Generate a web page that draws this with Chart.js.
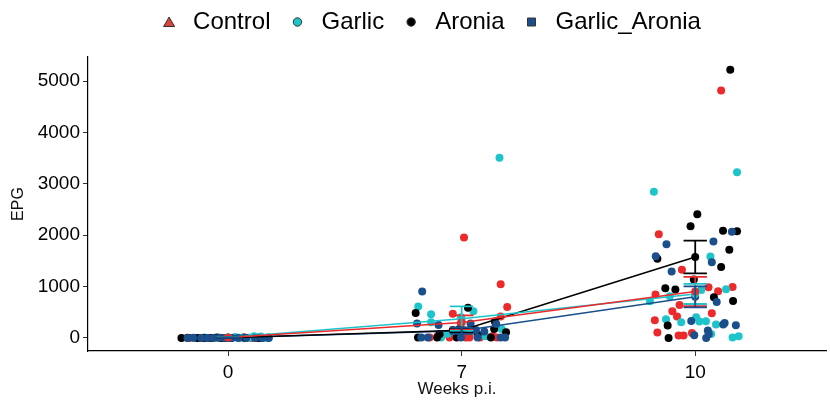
<!DOCTYPE html>
<html>
<head>
<meta charset="utf-8">
<script src="https://cdn.jsdelivr.net/npm/chart.js@4.4.1/dist/chart.umd.min.js"></script>
<style>
  html, body { margin: 0; padding: 0; background: #fff; }
</style>
</head>
<body>
<canvas id="epgChart" width="830" height="403"></canvas>
<script>
const weeks = ['0', '7', '10'];
const groups = ['Control', 'Garlic', 'Aronia', 'Garlic_Aronia'];
const groupColors = ['#EC2A2B', '#1DC5CB', '#000000', '#1A4F8B'];
const yTicks = [0, 1000, 2000, 3000, 4000, 5000];

// EPG per animal, one inner array per week (0, 7, 10)
const controlEPG = [
    [5, 0, 10, 0, 0, 0, 5, 0, 15, 0, 0, 0],
    [1954, 1044, 604, 468, 284, 415, 10, 10, 10, 10, 10, 10, 40, 30],
    [4819, 2019, 1325, 986, 910, 990, 843, 643, 519, 415, 480, 343, 103, 45, 45, 97]
];
const garlicEPG = [
    [20, 10, 25, 15, 5, 0, 5, 0, 10, 30, 0, 0],
    [3507, 610, 460, 518, 401, 304, 175, 10, 150, 80, 30, 20],
    [3227, 2845, 1584, 948, 935, 713, 811, 362, 304, 401, 318, 324, 259, 6, 31, 78]
];
const aroniaEPG = [
    [0, 0, 0, 0, 5, 0, 0, 0, 0, 10],
    [487, 585, 318, 109, 78, 10, 10, 10, 10, 150, 60, 175],
    [5222, 2409, 2175, 2085, 2077, 1715, 1539, 1383, 1136, 967, 941, 790, 720, 240, 0]
];
const garlicAroniaEPG = [
    [0, 5, 0, 0, 0, 5, 0, 0, 0, 0, 0, 0, 0],
    [902, 279, 253, 279, 273, 156, 123, 175, 10, 10, 10, 10, 10, 10],
    [2066, 1824, 1877, 1590, 1473, 1292, 701, 331, 259, 292, 246, 51, 142, 78, 0]
];

// horizontal jitter of each animal, in week units
const controlJitter = [
    [0.047, 0.098, 0.123, 0.145, -0.081, -0.017, 0.166, -0.123, 0.068, 0.013, -0.166, 0.115],
    [0.010, 0.167, 0.195, -0.038, -0.004, 0.167, -0.137, -0.052, 0.018, 0.033, 0.078, 0.150, -0.102, 0.132],
    [0.111, -0.156, -0.057, 0.057, 0.098, 0.160, -0.170, -0.067, -0.098, -0.078, 0.071, -0.173, -0.162, -0.071, -0.050, -0.014]
];
const garlicJitter = [
    [0.030, 0.064, 0.140, 0.174, -0.060, -0.004, 0.089, -0.145, -0.102, 0.111, 0.157, 0.047],
    [0.162, -0.186, -0.131, 0.050, -0.004, -0.131, 0.171, -0.088, 0.009, -0.060, 0.102, -0.021],
    [0.179, -0.177, 0.065, 0.132, 0.026, -0.194, -0.109, -0.125, -0.060, 0.004, 0.018, 0.046, 0.089, 0.160, 0.186, 0.068]
];
const aroniaJitter = [
    [-0.200, -0.132, -0.072, -0.030, -0.174, 0.072, 0.004, -0.102, 0.132, -0.047],
    [-0.197, 0.027, 0.142, 0.190, -0.094, -0.187, -0.105, -0.021, 0.125, -0.038, 0.068, 0.139],
    [0.150, 0.009, -0.020, 0.119, 0.179, 0.146, -0.162, 0.111, -0.006, -0.128, -0.085, 0.080, 0.162, -0.118, -0.114]
];
const garlicAroniaJitter = [
    [-0.174, -0.149, -0.115, -0.089, -0.064, -0.038, -0.013, 0.017, 0.043, 0.077, 0.145, 0.174, 0.115],
    [-0.169, -0.191, -0.099, 0.038, 0.148, 0.061, 0.097, -0.010, -0.173, -0.145, -0.003, 0.068, 0.167, 0.186],
    [0.157, -0.123, 0.078, -0.169, 0.071, -0.101, 0.092, -0.017, 0.120, 0.126, 0.174, -0.004, 0.054, 0.058, 0.047]
];

const controlMean = [8, 300, 905];
const garlicMean = [10, 375, 856];
const aroniaMean = [3, 150, 1576];
const garlicAroniaMean = [2, 140, 800];
const controlSE = [3, 140, 285];
const garlicSE = [3, 240, 196];
const aroniaSE = [2, 50, 320];
const garlicAroniaSE = [1, 60, 205];

const allEPG = [controlEPG, garlicEPG, aroniaEPG, garlicAroniaEPG];
const allJitter = [controlJitter, garlicJitter, aroniaJitter, garlicAroniaJitter];
const allMean = [controlMean, garlicMean, aroniaMean, garlicAroniaMean];
const allSE = [controlSE, garlicSE, aroniaSE, garlicAroniaSE];

const FONT = '"Liberation Sans", Arial, sans-serif';

const scatterSets = groups.map((g, gi) => {
    const pts = [];
    allEPG[gi].forEach((vals, wi) => {
        vals.forEach((v, k) => pts.push({ x: wi + allJitter[gi][wi][k], y: v }));
    });
    return {
        type: 'scatter',
        label: g,
        data: pts,
        backgroundColor: groupColors[gi],
        borderWidth: 0,
        pointRadius: 4,
        order: 4 - gi
    };
});

const meanSets = groups.map((g, gi) => ({
    type: 'line',
    label: g + ' mean',
    data: allMean[gi].map((m, wi) => ({ x: wi, y: m })),
    borderColor: groupColors[gi],
    backgroundColor: groupColors[gi],
    borderWidth: 1.5,
    pointRadius: 4,
    pointBorderWidth: 0,
    tension: 0,
    order: 0
}));

const errorBars = {
    id: 'errorBars',
    afterDatasetsDraw(chart) {
        const { ctx, scales: { x, y } } = chart;
        ctx.save();
        ctx.lineWidth = 1.8;
        groups.forEach((g, gi) => {
            ctx.strokeStyle = groupColors[gi];
            allMean[gi].forEach((m, wi) => {
                const se = allSE[gi][wi];
                const xl = x.getPixelForValue(wi - 0.05);
                const xr = x.getPixelForValue(wi + 0.05);
                const xc = x.getPixelForValue(wi);
                const yt = y.getPixelForValue(m + se);
                const yb = y.getPixelForValue(m - se);
                ctx.beginPath();
                ctx.moveTo(xl, yt); ctx.lineTo(xr, yt);
                ctx.moveTo(xl, yb); ctx.lineTo(xr, yb);
                ctx.moveTo(xc, yt); ctx.lineTo(xc, yb);
                ctx.stroke();
            });
        });
        ctx.restore();
    }
};

const topLegend = {
    id: 'topLegend',
    afterDraw(chart) {
        const ctx = chart.ctx;
        ctx.save();
        ctx.font = '24px ' + FONT;
        ctx.textBaseline = 'middle';
        const toText = 24, toNext = 27;
        const widths = groups.map(g => ctx.measureText(g).width);
        const span = widths.reduce((a, b) => a + b, 0) + groups.length * toText + (groups.length - 1) * toNext;
        let mx = 435 - span / 2;
        const cy = 22;
        groups.forEach((g, gi) => {
            ctx.fillStyle = groupColors[gi];
            ctx.strokeStyle = '#333';
            ctx.lineWidth = 1;
            ctx.beginPath();
            if (gi === 0) {
                ctx.fillStyle = '#D9443F';
                ctx.moveTo(mx, cy - 5);
                ctx.lineTo(mx + 5.5, cy + 4.5);
                ctx.lineTo(mx - 5.5, cy + 4.5);
                ctx.closePath();
            } else if (gi === 3) {
                ctx.rect(mx - 4, cy - 4, 8, 8);
            } else {
                ctx.arc(mx, cy, 4.2, 0, Math.PI * 2);
            }
            ctx.fill();
            ctx.stroke();
            ctx.fillStyle = '#000';
            ctx.fillText(g, mx + toText, cy);
            mx += toText + widths[gi] + toNext;
        });
        ctx.restore();
    }
};

new Chart(document.getElementById('epgChart').getContext('2d'), {
    data: { datasets: [...scatterSets, ...meanSets] },
    options: {
        responsive: false,
        animation: false,
        devicePixelRatio: 1,
        layout: { padding: { top: 57, left: 0, right: 0, bottom: 0 } },
        plugins: {
            legend: { display: false },
            tooltip: { enabled: false }
        },
        scales: {
            x: {
                type: 'linear',
                min: -0.6,
                max: 2.56,
                afterBuildTicks: s => { s.ticks = weeks.map((w, i) => ({ value: i })); },
                afterFit: s => { s.height = 52; },
                ticks: {
                    callback: v => weeks[v],
                    font: { family: FONT, size: 19 },
                    color: '#000',
                    padding: 5,
                    maxRotation: 0
                },
                grid: { drawOnChartArea: false, drawTicks: true, tickLength: 5, tickColor: '#333', tickWidth: 1 },
                border: { display: true, color: '#000', width: 1.2 },
                title: {
                    display: true,
                    text: 'Weeks p.i.',
                    font: { family: FONT, size: 17 },
                    color: '#111',
                    padding: { top: 0, bottom: 3 }
                }
            },
            y: {
                type: 'linear',
                min: -255,
                max: 5470,
                afterBuildTicks: s => { s.ticks = yTicks.map(v => ({ value: v })); },
                afterFit: s => { s.width = 88; },
                ticks: {
                    callback: v => String(v),
                    font: { family: FONT, size: 19 },
                    color: '#000',
                    padding: 3
                },
                grid: { drawOnChartArea: false, drawTicks: true, tickLength: 5, tickColor: '#333', tickWidth: 1 },
                border: { display: true, color: '#000', width: 1.2 },
                title: {
                    display: true,
                    text: 'EPG',
                    font: { family: FONT, size: 16 },
                    color: '#111',
                    padding: { top: 9, bottom: 0 }
                }
            }
        }
    },
    plugins: [errorBars, topLegend]
});
</script>
</body>
</html>
